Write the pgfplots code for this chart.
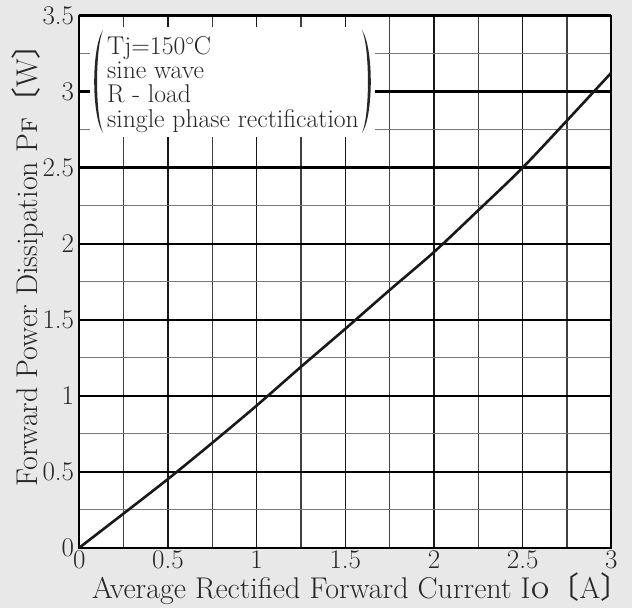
\documentclass[border=0pt]{standalone}
\usepackage{fontspec}
\usepackage{pgfplots}
\pgfplotsset{compat=1.18}
\newfontfamily\cjk{Noto Sans CJK JP}
\definecolor{bgc}{RGB}{232,232,232}
\definecolor{minorc}{RGB}{120,120,120}
\begin{document}
\begin{tikzpicture}[x=1pt,y=1pt]
\fill[bgc] (-79.3,-60.3) rectangle (552.7,547.7);
\useasboundingbox (-79.3,-60.3) rectangle (552.7,547.7);
\begin{axis}[
  at={(0,0)}, anchor=south west,
  scale only axis, width=532pt, height=532pt,
  xmin=0, xmax=3, ymin=0, ymax=3.5,
  xtick={0,0.5,...,3}, ytick={0,0.5,...,3.5},
  minor xtick={0.25,0.75,...,2.75}, minor ytick={0.25,0.75,...,3.25},
  grid=both,
  major tick length=0pt, minor tick length=0pt,
  major y grid style={black, line width=2.4pt},
  minor y grid style={minorc, line width=1.1pt},
  major x grid style={black!90, line width=1.6pt},
  minor x grid style={black!75, line width=1.1pt},
  axis line style={black, line width=2.2pt},
  axis background/.style={fill=white},
  ticklabel style={font=\fontsize{27}{30}\selectfont, text=black!85},
  xticklabel style={inner sep=3pt},
  yticklabel style={inner sep=5pt},
  xticklabels={0,0.5,1,1.5,2,2.5,3},
  yticklabels={0,0.5,1,1.5,2,2.5,3,3.5},
  label style={font=\fontsize{30}{34}\selectfont, text=black!85},
  xlabel={Average Rectified Forward Current I\textsc{o}{\cjk 〔}A{\cjk 〕}},
  ylabel={Forward Power Dissipation P\textsc{f}{\cjk 〔}W{\cjk 〕}},
  xlabel style={at={(axis description cs:0.53,-0.0964)}, anchor=base},
  ylabel style={at={(axis description cs:-0.0795,0.545)}, anchor=base, rotate=0},
]
\addplot[black!90, line width=2.6pt, smooth] coordinates {
(0,0) (0.25,0.225) (0.5,0.452) (0.75,0.69) (1.0,0.935) (1.25,1.19)
(1.5,1.44) (1.75,1.695) (2.0,1.945) (2.25,2.22) (2.5,2.5) (2.75,2.81) (3.0,3.125)
};
\end{axis}
% condition box
\fill[white] (10.7,410.7) rectangle (295.7,520.7);
\fill[black!85] (23.7,517.7) .. controls (12,500) and (12,432) .. (23.7,414.7)
   .. controls (15.8,432) and (15.8,500) .. (23.7,517.7) -- cycle;
\fill[black!85] (282.7,517.7) .. controls (294.4,500) and (294.4,432) .. (282.7,414.7)
   .. controls (290.6,432) and (290.6,500) .. (282.7,517.7) -- cycle;
\node[anchor=base west, inner sep=0pt, text=black!85, font=\fontsize{25.7}{22.5}\selectfont]
  at (27.7,492.7) {\begin{tabular}[t]{@{}l@{}}Tj=150${}^{\circ}$\kern-0.5pt C\\ sine wave\\ R - load\\ single phase rectification\end{tabular}};
\end{tikzpicture}
\end{document}
